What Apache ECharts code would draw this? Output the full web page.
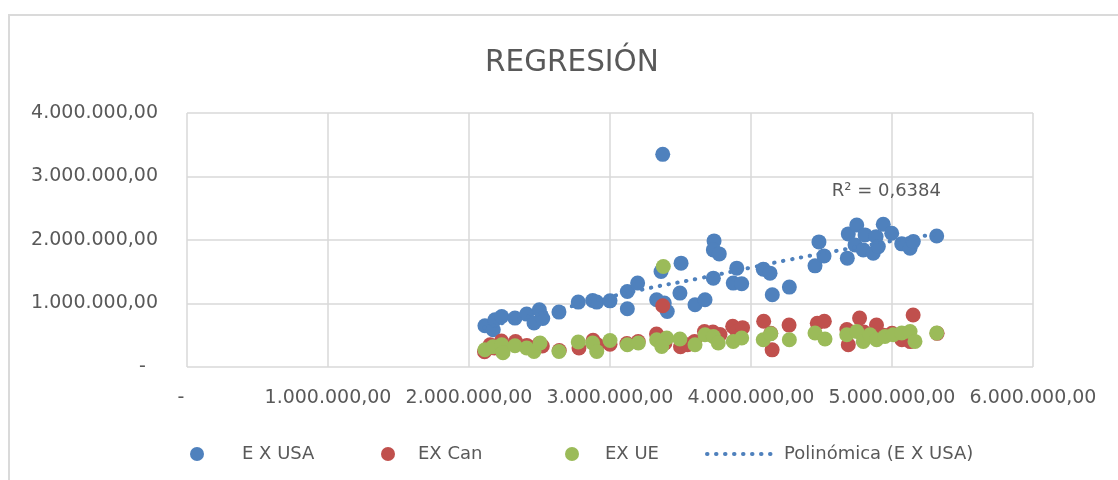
<!DOCTYPE html>
<html>
<head>
<meta charset="utf-8">
<script src="https://cdn.jsdelivr.net/npm/echarts@6/dist/echarts.min.js"></script>
<style>
html,body{margin:0;padding:0;background:#fff;}
#chart{width:1118px;height:480px;}
</style>
</head>
<body>
<div id="chart"></div>
<script>
// Values in millions
const chartTitle = 'REGRESIÓN';
const seriesNames = ['E X USA', 'EX Can', 'EX UE', 'Polinómica (E X USA)'];
const r2Text = 'R² = 0,6384';
const r2Pos = [4.96, 2.76];
const xTicks = [0, 1, 2, 3, 4, 5, 6];
const yTicks = [0, 1, 2, 3, 4];

const usaPoints = [
  [2.113,0.649],[2.172,0.587],[2.184,0.744],[2.232,0.796],[2.326,0.770],[2.409,0.833],
  [2.461,0.692],[2.499,0.901],[2.523,0.764],[2.638,0.865],[2.775,1.022],[2.877,1.047],
  [2.906,1.022],[3.000,1.042],[3.123,0.917],[3.123,1.189],[3.196,1.321],[3.374,3.349],
  [3.362,1.503],[3.504,1.635],[3.331,1.058],[3.385,1.006],[3.406,0.874],[3.496,1.164],
  [3.603,0.980],[3.674,1.058],[3.738,1.986],[3.733,1.844],[3.775,1.781],[3.733,1.399],
  [3.899,1.557],[3.874,1.321],[3.934,1.310],[4.087,1.541],[4.135,1.478],[4.151,1.137],
  [4.272,1.258],[4.454,1.593],[4.518,1.750],[4.482,1.970],[4.683,1.714],[4.690,2.096],
  [4.750,2.237],[4.738,1.923],[4.796,1.844],[4.809,2.080],[4.867,1.792],[4.887,2.053],
  [4.903,1.896],[4.938,2.248],[4.998,2.107],[5.069,1.939],[5.128,1.871],[5.151,1.975],
  [5.317,2.064]
];

const canPoints = [
  [2.11,0.24],[2.15,0.35],[2.18,0.30],[2.23,0.41],[2.33,0.40],[2.41,0.34],[2.46,0.30],
  [2.50,0.37],[2.52,0.33],[2.64,0.26],[2.78,0.30],[2.88,0.42],[2.91,0.35],[3.00,0.36],
  [3.12,0.37],[3.20,0.40],[3.374,0.964],[3.33,0.52],[3.36,0.45],[3.39,0.38],[3.50,0.32],
  [3.55,0.35],[3.60,0.40],[3.67,0.56],[3.73,0.55],[3.78,0.51],[3.87,0.64],[3.90,0.56],
  [3.94,0.62],[4.09,0.72],[4.14,0.53],[4.15,0.27],[4.27,0.66],[4.47,0.69],[4.52,0.72],
  [4.68,0.59],[4.69,0.35],[4.77,0.77],[4.80,0.55],[4.87,0.52],[4.89,0.66],[4.94,0.50],
  [5.00,0.53],[5.07,0.43],[5.13,0.40],[5.15,0.82],[5.32,0.53]
];

const uePoints = [
  [2.113,0.272],[2.170,0.319],[2.232,0.351],[2.241,0.225],[2.326,0.335],[2.409,0.299],
  [2.461,0.245],[2.504,0.377],[2.638,0.245],[2.775,0.393],[2.877,0.377],[2.906,0.245],
  [3.000,0.418],[3.123,0.351],[3.201,0.377],[3.378,1.582],[3.331,0.429],[3.402,0.456],
  [3.367,0.324],[3.496,0.440],[3.603,0.351],[3.674,0.508],[3.733,0.481],[3.768,0.377],
  [3.874,0.403],[3.934,0.456],[4.087,0.429],[4.140,0.524],[4.272,0.429],[4.454,0.535],
  [4.525,0.440],[4.679,0.508],[4.750,0.560],[4.796,0.403],[4.844,0.508],[4.891,0.429],
  [4.950,0.481],[5.009,0.508],[5.069,0.535],[5.128,0.560],[5.163,0.403],[5.317,0.535]
];

const trendPoints = [
  [2.11,0.62],[2.77,0.98],[3.23,1.22],[3.62,1.39],[4.01,1.57],[4.25,1.68],
  [4.61,1.83],[4.96,1.97],[5.27,2.08],[5.32,2.10]
];

const colBlue = '#4F81BD', colRed = '#C0504D', colGreen = '#9BBB59';
const textColor = '#595959';
const font = 'DejaVu Sans';

function fmtNum(v, pad) {
  if (v === 0) return pad;
  const n = Math.round(v * 1e6);
  const s = String(n).replace(/\B(?=(\d{3})+(?!\d))/g, '.');
  return s + ',00';
}

const chart = echarts.init(document.getElementById('chart'));
function legendAt(left, name, textPad, extra) {
  return Object.assign({
    top: 445, left: left, padding: 0, itemWidth: 14, itemHeight: 14,
    orient: 'horizontal', selectedMode: false, data: [name],
    textStyle: { color: textColor, fontSize: 18, fontFamily: font,
      padding: [0, 0, 0, textPad] }
  }, extra || {});
}
chart.setOption({
  backgroundColor: '#fff',
  animation: false,
  title: {
    text: chartTitle, left: 480, top: 43,
    textStyle: { color: textColor, fontSize: 29.5, fontWeight: 'normal', fontFamily: font }
  },
  graphic: [{
    type: 'rect', silent: true, z: -1,
    shape: { x: 9, y: 15, width: 1200, height: 600 },
    style: { fill: 'none', stroke: '#DADADA', lineWidth: 2 }
  }],
  legend: [
    legendAt(190, seriesNames[0], 33),
    legendAt(381, seriesNames[1], 18),
    legendAt(565, seriesNames[2], 21),
    legendAt(705, seriesNames[3], 8, {
      itemWidth: 64, itemStyle: { opacity: 0 },
      lineStyle: { width: 4, type: [0.5, 8.5], cap: 'round', color: colBlue }
    })
  ],
  grid: { left: 187, right: 85, top: 113, bottom: 113, containLabel: false },
  xAxis: {
    type: 'value', min: xTicks[0], max: xTicks[xTicks.length - 1], interval: 1,
    axisLine: { show: false }, axisTick: { show: false },
    splitLine: { show: true, lineStyle: { color: '#D9D9D9', width: 1.5 } },
    axisLabel: { color: textColor, fontSize: 19, fontFamily: font, margin: 22,
      formatter: v => fmtNum(v, '-  ') }
  },
  yAxis: {
    type: 'value', min: yTicks[0], max: yTicks[yTicks.length - 1], interval: 1,
    axisLine: { show: false }, axisTick: { show: false },
    splitLine: { show: true, lineStyle: { color: '#D9D9D9', width: 1.5 } },
    axisLabel: { color: textColor, fontSize: 19, fontFamily: font, margin: 29,
      formatter: v => fmtNum(v, '-  ') }
  },
  series: [
    { name: seriesNames[0], type: 'scatter', symbol: 'circle', symbolSize: 15,
      itemStyle: { color: colBlue, opacity: 1 }, data: usaPoints, z: 2 },
    { name: seriesNames[1], type: 'scatter', symbol: 'circle', symbolSize: 15,
      itemStyle: { color: colRed, opacity: 1 }, data: canPoints, z: 3 },
    { name: seriesNames[2], type: 'scatter', symbol: 'circle', symbolSize: 15,
      itemStyle: { color: colGreen, opacity: 1 }, data: uePoints, z: 4 },
    { name: seriesNames[3], type: 'line', smooth: true, symbol: 'none', z: 5,
      lineStyle: { color: colBlue, width: 4, type: [0.5, 8.5], cap: 'round' },
      itemStyle: { color: colBlue },
      data: trendPoints,
      markPoint: {
        symbol: 'circle', symbolSize: 0,
        data: [{ coord: r2Pos, value: r2Text }],
        label: { show: true, position: 'inside', formatter: r2Text,
          color: textColor, fontSize: 18, fontFamily: font }
      }
    }
  ]
});
</script>
</body>
</html>
